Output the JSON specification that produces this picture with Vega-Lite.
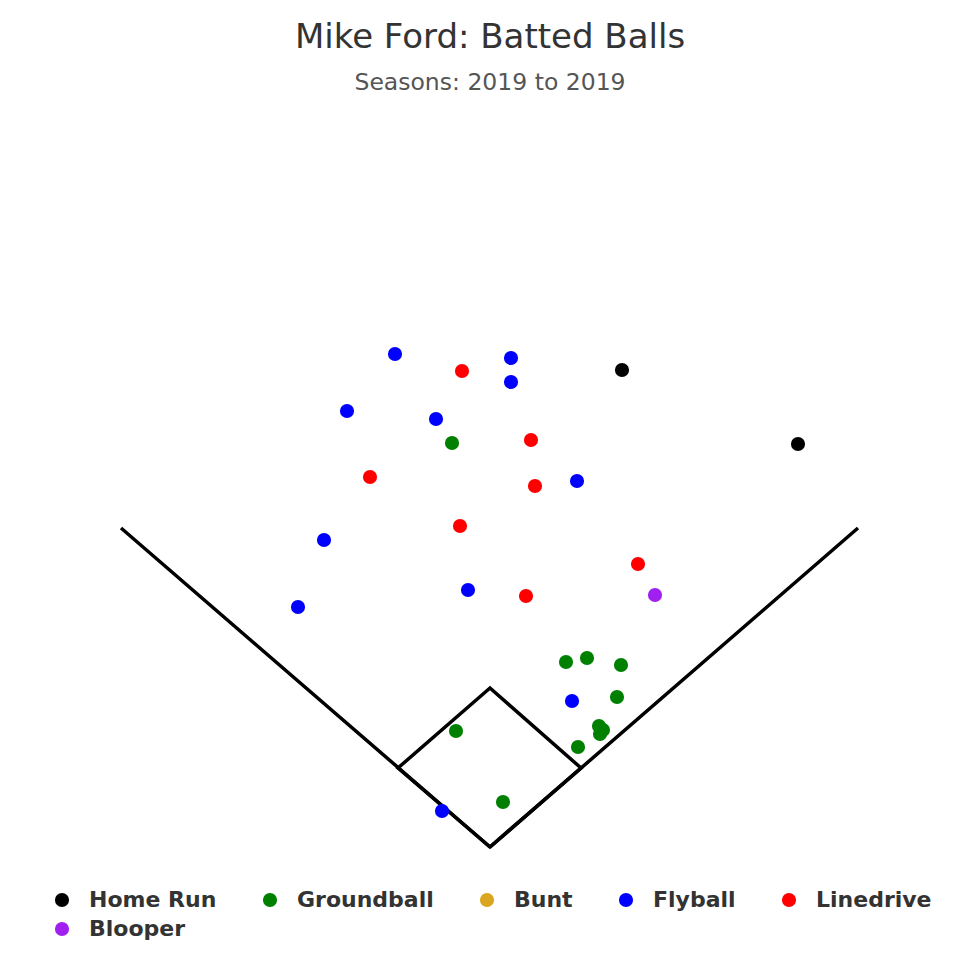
{
  "$schema": "https://vega.github.io/schema/vega-lite/v6.json",
  "width": 980,
  "height": 750,
  "autosize": "none",
  "padding": {"top": 120, "left": 0, "right": 0, "bottom": 110},
  "background": "white",
  "config": {"view": {"stroke": null}, "font": "DejaVu Sans"},
  "title": {
    "text": "Mike Ford: Batted Balls",
    "subtitle": "Seasons: 2019 to 2019",
    "anchor": "middle",
    "font": "DejaVu Sans",
    "fontSize": 34,
    "fontWeight": "normal",
    "color": "#333333",
    "subtitleFont": "DejaVu Sans",
    "subtitleFontSize": 23.5,
    "subtitleColor": "#555555",
    "subtitlePadding": 16,
    "offset": 26
  },
  "datasets": {
    "field": [
      {"seg": "foul", "ord": 1, "x": 121, "y": 528},
      {"seg": "foul", "ord": 2, "x": 490, "y": 847},
      {"seg": "foul", "ord": 3, "x": 858, "y": 528},
      {"seg": "diamond", "ord": 1, "x": 490, "y": 847},
      {"seg": "diamond", "ord": 2, "x": 581, "y": 768},
      {"seg": "diamond", "ord": 3, "x": 490, "y": 688},
      {"seg": "diamond", "ord": 4, "x": 398, "y": 768},
      {"seg": "diamond", "ord": 5, "x": 490, "y": 847}
    ],
    "balls": [
      {"type": "Home Run", "x": 622, "y": 370},
      {"type": "Home Run", "x": 798, "y": 444},
      {"type": "Groundball", "x": 452, "y": 443},
      {"type": "Groundball", "x": 566, "y": 662},
      {"type": "Groundball", "x": 587, "y": 658},
      {"type": "Groundball", "x": 621, "y": 665},
      {"type": "Groundball", "x": 617, "y": 697},
      {"type": "Groundball", "x": 599, "y": 726},
      {"type": "Groundball", "x": 600, "y": 734},
      {"type": "Groundball", "x": 603, "y": 730},
      {"type": "Groundball", "x": 578, "y": 747},
      {"type": "Groundball", "x": 456, "y": 731},
      {"type": "Groundball", "x": 503, "y": 802},
      {"type": "Flyball", "x": 395, "y": 354},
      {"type": "Flyball", "x": 511, "y": 358},
      {"type": "Flyball", "x": 511, "y": 382},
      {"type": "Flyball", "x": 347, "y": 411},
      {"type": "Flyball", "x": 436, "y": 419},
      {"type": "Flyball", "x": 577, "y": 481},
      {"type": "Flyball", "x": 324, "y": 540},
      {"type": "Flyball", "x": 298, "y": 607},
      {"type": "Flyball", "x": 468, "y": 590},
      {"type": "Flyball", "x": 572, "y": 701},
      {"type": "Flyball", "x": 442, "y": 811},
      {"type": "Linedrive", "x": 462, "y": 371},
      {"type": "Linedrive", "x": 531, "y": 440},
      {"type": "Linedrive", "x": 370, "y": 477},
      {"type": "Linedrive", "x": 535, "y": 486},
      {"type": "Linedrive", "x": 460, "y": 526},
      {"type": "Linedrive", "x": 638, "y": 564},
      {"type": "Linedrive", "x": 526, "y": 596},
      {"type": "Blooper", "x": 655, "y": 595}
    ]
  },
  "layer": [
    {
      "data": {"name": "field"},
      "mark": {"type": "line", "color": "black", "strokeWidth": 3.5, "strokeJoin": "miter", "strokeCap": "butt"},
      "encoding": {
        "x": {"field": "x", "type": "quantitative", "scale": {"domain": [0, 980], "nice": false, "zero": false}, "axis": null},
        "y": {"field": "y", "type": "quantitative", "scale": {"domain": [120, 870], "nice": false, "zero": false, "reverse": true}, "axis": null},
        "detail": {"field": "seg"},
        "order": {"field": "ord", "type": "quantitative"}
      }
    },
    {
      "data": {"name": "balls"},
      "mark": {"type": "circle", "size": 200, "opacity": 1},
      "encoding": {
        "x": {"field": "x", "type": "quantitative", "scale": {"domain": [0, 980], "nice": false, "zero": false}, "axis": null},
        "y": {"field": "y", "type": "quantitative", "scale": {"domain": [120, 870], "nice": false, "zero": false, "reverse": true}, "axis": null},
        "color": {
          "field": "type",
          "type": "nominal",
          "scale": {
            "domain": ["Home Run", "Groundball", "Bunt", "Flyball", "Linedrive", "Blooper"],
            "range": ["#000000", "#008000", "#DAA520", "#0000FF", "#FF0000", "#A020F0"]
          },
          "legend": {
            "title": null,
            "orient": "none",
            "legendX": 51,
            "legendY": 769,
            "direction": "horizontal",
            "columns": 5,
            "symbolType": "circle",
            "symbolSize": 200,
            "symbolOpacity": 1,
            "labelFont": "DejaVu Sans",
            "labelFontSize": 22,
            "labelFontWeight": "bold",
            "labelColor": "#333333",
            "labelOffset": 16,
            "columnPadding": 42,
            "rowPadding": 7,
            "labelLimit": 300
          }
        }
      }
    }
  ]
}
